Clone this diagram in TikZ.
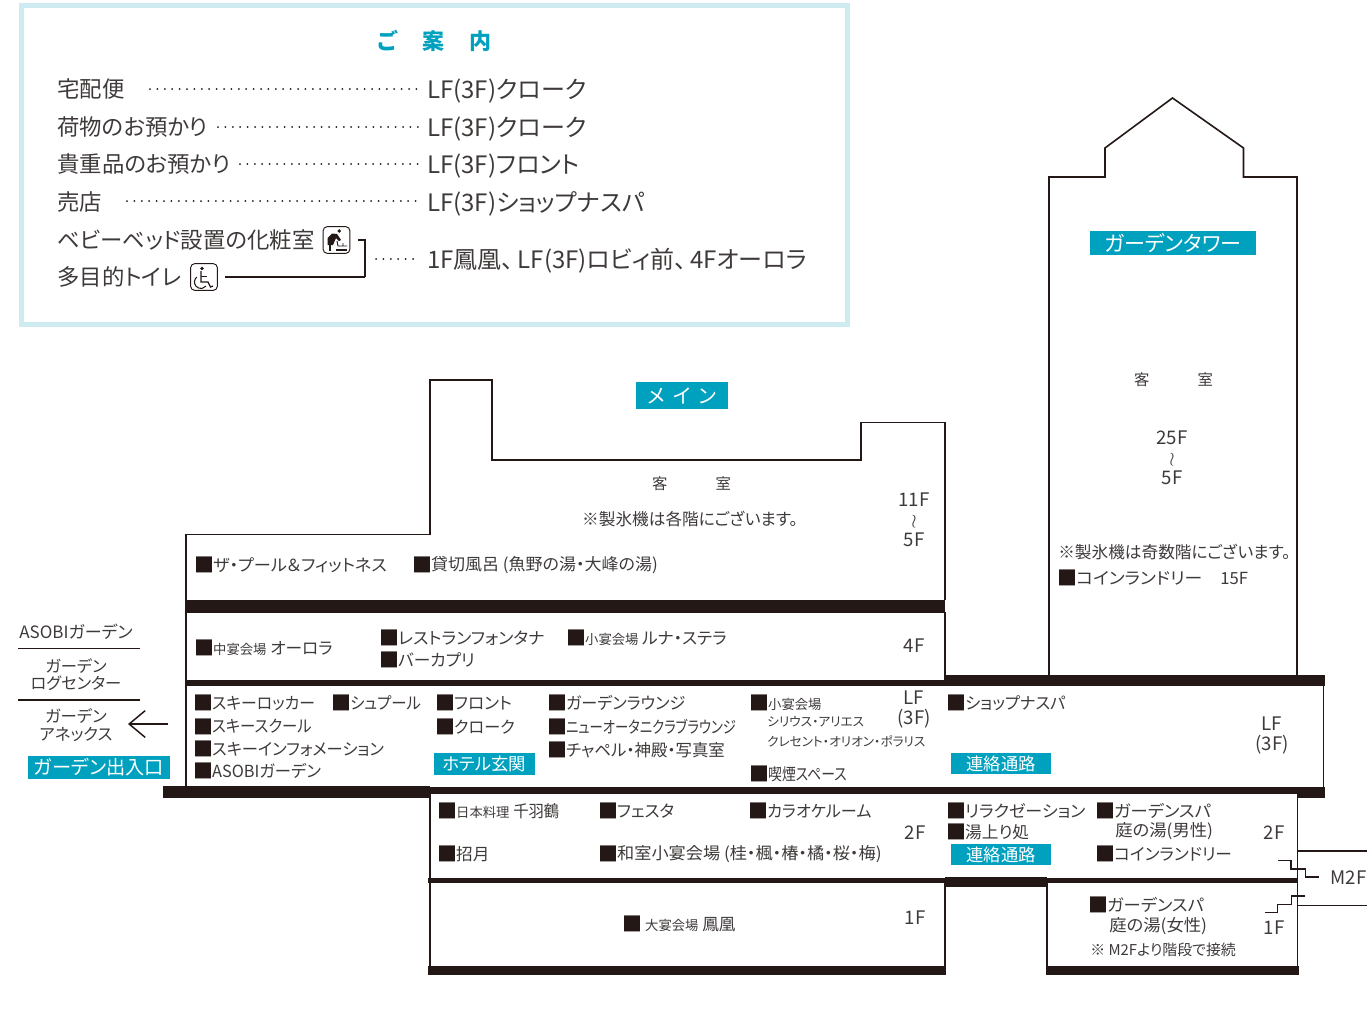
\documentclass[tikz,border=0pt]{standalone}
\usepackage{fontspec}
\setmainfont{Noto Sans CJK JP}[RawFeature=+palt]
\usetikzlibrary{arrows.meta}
\definecolor{ink}{HTML}{3E3A39}
\definecolor{band}{HTML}{231815}
\definecolor{teal}{HTML}{00A0BF}
\definecolor{pale}{HTML}{CDEBF1}
\newcommand{\fs}[1]{\fontsize{#1}{#1}\selectfont}
\newcommand{\sq}{\hspace{-1.5pt}\raisebox{-1.2pt}{\textcolor{band}{\fs{15pt}■}}\hspace{-.8pt}}
\newcommand{\sx}[2]{\scalebox{#1}[1]{#2}}
\tikzset{
  room/.style={anchor=west,inner sep=0,text=ink,font=\fs{12.5pt}},
  info/.style={anchor=west,inner sep=0,text=ink,font=\fs{16.8pt}},
  infor/.style={anchor=west,inner sep=0,text=ink,font=\fs{18pt}},
  floor/.style={inner sep=0,text=ink,align=center,font=\fontsize{14pt}{15pt}\selectfont},
  tag/.style={fill=teal,text=white,inner sep=0,font=\fs{13pt}},
  wall/.style={draw=band,line width=1.2pt,line join=miter},
  floorband/.style={fill=band},
  leader/.style={draw=band,line width=1.5pt,line cap=round,dash pattern=on 0pt off 5.55pt,shorten >=6.5pt},
  iconbox/.style={draw=band,line width=.7pt,rounded corners=3pt,inner sep=0},
}
\begin{document}
\begin{tikzpicture}[x=0.75pt,y=-0.75pt]
  \useasboundingbox (0,0) rectangle (1367,1021);

  % guide box
  \draw[pale,line width=4pt] (21.5,5.5) rectangle (847.5,324.5);
  \node[inner sep=0,text=teal,font=\fs{16.5pt}\bfseries] (title) at (434.5,41) {ご\hspace{19pt}案\hspace{19pt}内};

  \node[info] (a1) at (57,89.5) {宅配便};
  \node[info] (a2) at (57,127.5) {荷物のお預かり};
  \node[info] (a3) at (57,164.5) {貴重品のお預かり};
  \node[info] (a4) at (57,201.5) {売店};
  \node[info] (a5) at (57,239.5) {ベビーベッド設置の化粧室};
  \node[info] (a6) at (57,277) {多目的トイレ};
  \node[infor] (b1) at (427,91.5) {LF(3F)クローク};
  \node[infor] (b2) at (427,129.5) {LF(3F)クローク};
  \node[infor] (b3) at (427,166.5) {LF(3F)フロント};
  \node[infor] (b4) at (427,203.5) {LF(3F)ショップナスパ};
  \node[infor] (b5) at (427,260.5) {1F鳳凰、\hspace{3pt}LF(3F)ロビィ前、\hspace{3pt}4Fオーロラ};

  \coordinate (d1) at (150,89);
  \coordinate (d2) at (218,127);
  \coordinate (d3) at (240,164);
  \coordinate (d4) at (127,201);
  \coordinate (d5) at (376,259);
  \draw[leader] (d1) -- (b1.west |- d1);
  \draw[leader] (d2) -- (b2.west |- d2);
  \draw[leader] (d3) -- (b3.west |- d3);
  \draw[leader] (d4) -- (b4.west |- d4);
  \draw[leader] (d5) -- (b5.west |- d5);

  % two icons and their bracket
  \node[iconbox,minimum width=20pt,minimum height=20pt] (bedicon) at (336.5,240) {};
  \node[iconbox,minimum width=20pt,minimum height=20pt] (wheelicon) at (204,277) {};
  \coordinate (bend) at (365,277);
  \draw[band,line width=1pt,shorten <=5.5pt] (bedicon.east) -| (bend);
  \draw[band,line width=1pt,shorten <=5.5pt] (wheelicon.east) -- (bend);

  \fill[band] (339.3,231) circle (1.9);
  \fill[band] (327.5,245) -- (327.5,238) -- (332,233.5) -- (337,234) -- (341,240) -- (339,241) -- (336,238) -- (333,245) -- cycle;
  \draw[band,line width=.9pt] (330,238) -- (330,251);
  \draw[band,line width=.9pt] (336,250) -- (347,250);
  \draw[band,line width=.7pt] (337,241) -- (338,246) -- (347,246) (343,246) -- (343,243);
  \fill[band] (202,268.5) circle (1.8);
  \draw[band,line width=.9pt] (201,271) -- (201,282) -- (208,282) -- (210.5,287) -- (213,286);
  \draw[band,line width=.7pt] (201,276) -- (207,276);
  \draw[band,line width=.8pt] (196.8,277) arc (230:40:6.5);

  % garden tower
  \draw[wall] (1049,675) -- (1049,177) -- (1105,177) -- (1105,148) -- (1172.5,98) -- (1243.5,148) -- (1243.5,177) -- (1297,177) -- (1297,675);
  % main building
  \draw[wall] (186,600) -- (186,534.5) -- (430,534.5) -- (430,380) -- (492,380) -- (492,460) -- (861,460) -- (861,422.5) -- (945,422.5) -- (945,600);
  \draw[wall] (186,612) -- (186,787);
  \draw[wall] (945,612) -- (945,680);
  \draw[wall] (1323.5,686) -- (1323.5,787);
  \draw[wall] (430,793) -- (430,966);
  \draw[wall] (945,883) -- (945,966);
  \draw[wall] (1047,883) -- (1047,966);
  \draw[wall] (1297.5,793) -- (1297.5,966);

  % thick floors
  \fill[floorband] (185,599.5) rectangle (945,612.5);
  \fill[floorband] (185,679.5) rectangle (945,685.5);
  \fill[floorband] (945,675) rectangle (1324.5,686);
  \fill[floorband] (163,786) rectangle (430,798);
  \fill[floorband] (430,786.5) rectangle (1297,793.5);
  \fill[floorband] (1297,786.5) rectangle (1324.5,797.5);
  \fill[floorband] (428,877.5) rectangle (945,883);
  \fill[floorband] (945,877) rectangle (1047,887);
  \fill[floorband] (1047,877.5) rectangle (1297,883);
  \fill[floorband] (428,965.5) rectangle (946,975);
  \fill[floorband] (1046,965.5) rectangle (1298.5,975);

  % M2F annex and stairs
  \draw[band,line width=1pt] (1297,851) -- (1367,851);
  \draw[band,line width=1pt] (1297,905.5) -- (1367,905.5);
  \draw[band,line width=1pt] (1278,860.5) -- (1291,860.5) -- (1291,869) -- (1305.5,869) -- (1305.5,877) -- (1318.5,877);
  \draw[band,line width=1pt] (1265,912.5) -- (1277.5,912.5) -- (1277.5,904.5) -- (1291.5,904.5) -- (1291.5,896) -- (1305,896);
  \node[floor] (m2f) at (1348.5,877.5) {M2F};

  % left side
  \node[room,anchor=center,font=\fs{12.75pt}] (side1) at (76,632) {ASOBIガーデン};
  \node[room,anchor=center,align=center,font=\fontsize{12.2pt}{13pt}\selectfont] (side2) at (76,674.5) {ガーデン\\ログセンター};
  \node[room,anchor=center,align=center,font=\fontsize{12.3pt}{13.5pt}\selectfont] (side3) at (76,725.5) {ガーデン\\アネックス};
  \coordinate (r1) at (18,648.5);
  \coordinate (r2) at (140,648.5);
  \coordinate (r3) at (18,700);
  \coordinate (r4) at (140,700);
  \draw[band,line width=.8pt] (r1) -- (r2);
  \draw[band,line width=.8pt] (r3) -- (r4);
  \coordinate (way) at (168,724);
  \coordinate (wayend) at (128,724);
  \draw[band,line width=1.1pt,-{Straight Barb[length=12pt,width=20pt]}] (way) -- (wayend);
  \node[tag,minimum width=106.5pt,minimum height=17pt,font=\fs{14.4pt}] (gardengate) at (99,767.5) {ガーデン出入口};

  % tags
  \node[tag,minimum width=124.5pt,minimum height=18pt,font=\fs{15.8pt}] (towertag) at (1173,243) {ガーデンタワー};
  \node[tag,minimum width=69pt,minimum height=20pt,font=\fs{15pt}] (maintag) at (682,395.5) {メ\hspace{6pt}イ\hspace{6pt}ン};
  \node[tag,minimum width=76pt,minimum height=16.5pt] (hoteltag) at (484.5,764) {ホテル玄関};
  \node[tag,minimum width=75pt,minimum height=16pt] (link1) at (1001,763.5) {連絡通路};
  \node[tag,minimum width=75pt,minimum height=16pt] (link2) at (1001,854.5) {連絡通路};

  % tower text
  \node[room,anchor=center,font=\fs{11.5pt}] (t1) at (1173.5,380) {客\hspace{36pt}室};
  \node[floor] (t2) at (1172,457.5) {25F\\$\wr$\\5F};
  \node[room] (t3) at (1058,552) {※製氷機は奇数階にございます。};
  \node[room] (t4) at (1059,578) {\sq\sx{1.07}{コインランドリー}\hspace{13.5pt}15F};

  % guest floors of main
  \node[room,anchor=center,font=\fs{11.5pt}] (g1) at (691.5,484) {客\hspace{36pt}室};
  \node[room,anchor=center] (g2) at (690,519) {※製氷機は各階にございます。};
  \node[floor] (g3) at (914,519.5) {11F\\$\wr$\\5F};
  \node[room] (g4) at (196,565) {\sq\sx{1.03}{ザ・プール＆フィットネス}};
  \node[room] (g5) at (414,565) {\sq\sx{1.02}{貸切風呂 (魚野の湯・大峰の湯)}};

  % 4F
  \node[room] (f1) at (196,648) {\sq{\fs{10pt}中宴会場} オーロラ};
  \node[room] (f2) at (381,638) {\sq\sx{1.02}{レストランフォンタナ}};
  \node[room] (f3) at (381,660) {\sq バーカプリ};
  \node[room] (f4) at (568,638) {\sq{\fs{10pt}小宴会場} ルナ・ステラ};
  \node[floor] (f5) at (914,646) {4F};

  % LF
  \node[room] (l1) at (195,703) {\sq\sx{.95}{スキーロッカー}};
  \node[room] (l2) at (333,703) {\sq\sx{.92}{シュプール}};
  \node[room] (l3) at (195,726.5) {\sq\sx{.92}{スキースクール}};
  \node[room] (l4) at (195,749) {\sq\sx{.975}{スキーインフォメーション}};
  \node[room] (l5) at (195,771) {\sq\sx{.98}{ASOBIガーデン}};
  \node[room] (l6) at (437,703) {\sq フロント};
  \node[room] (l7) at (437,727) {\sq\sx{.966}{クローク}};
  \node[room] (l8) at (549,703) {\sq\sx{.966}{ガーデンラウンジ}};
  \node[room] (l9) at (549,727) {\sq\sx{.8}{ニューオータニクラブラウンジ}};
  \node[room] (l10) at (549,750) {\sq\sx{.984}{チャペル・神殿・写真室}};
  \node[room] (l11) at (751,703) {\sq{\fs{10pt}小宴会場}};
  \node[room,font=\fs{9.5pt}] (l12) at (767,722) {シリウス・アリエス};
  \node[room,font=\fs{9.5pt}] (l13) at (767,741) {クレセント・オリオン・ポラリス};
  \node[room] (l14) at (751,774) {\sq\sx{.83}{喫煙スペース}};
  \node[floor] (l15) at (914,709.5) {LF\\(3F)};
  \node[room] (l16) at (948,703) {\sq\sx{.975}{ショップナスパ}};
  \node[floor] (l17) at (1272,735) {LF\\(3F)};

  % 2F
  \node[room] (s1) at (439,811) {\sq{\fs{10pt}日本料理} \sx{.92}{千羽鶴}};
  \node[room] (s2) at (600,811) {\sq フェスタ};
  \node[room] (s3) at (750,811) {\sq\sx{.966}{カラオケルーム}};
  \node[room] (s4) at (439,854) {\sq 招月};
  \node[room] (s5) at (600,854) {\sq\sx{1.03}{和室小宴会場 (桂・楓・椿・橘・桜・梅)}};
  \node[floor] (s6) at (915,833) {2F};
  \node[room] (s7) at (948,811) {\sq\sx{1.02}{リラクゼーション}};
  \node[room] (s8) at (948,832) {\sq 湯上り処};
  \node[room] (s9) at (1097,811) {\sq\sx{1.04}{ガーデンスパ}};
  \node[room] (s10) at (1115,831) {\sx{1.04}{庭の湯(男性)}};
  \node[room] (s11) at (1097,854) {\sq コインランドリー};
  \node[floor] (s12) at (1274,833) {2F};

  % 1F
  \node[room] (o1) at (624,924) {\sq\hspace{3pt}{\fs{10pt}大宴会場} 鳳凰};
  \node[floor] (o2) at (915,918) {1F};
  \node[room] (o3) at (1090,905) {\sq\sx{1.04}{ガーデンスパ}};
  \node[room] (o4) at (1109,926) {\sx{1.04}{庭の湯(女性)}};
  \node[room,font=\fs{11.2pt}] (o5) at (1090,950) {※ M2Fより階段で接続};
  \node[floor] (o6) at (1274,928) {1F};

\end{tikzpicture}
\end{document}
